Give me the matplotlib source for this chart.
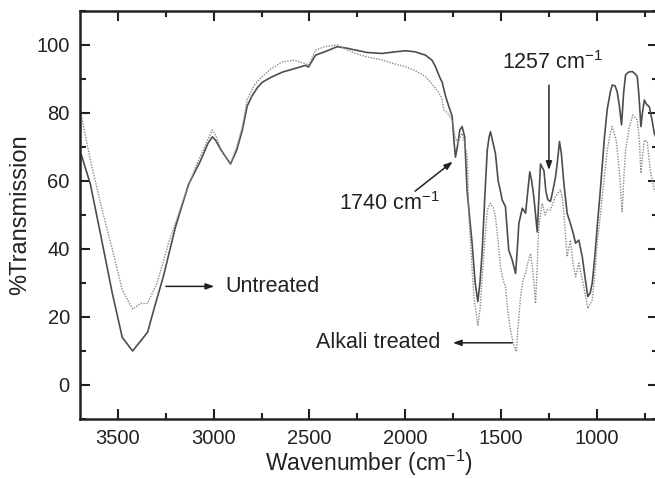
import numpy as np
import matplotlib
matplotlib.use('Agg')
import matplotlib.pyplot as plt
from matplotlib.ticker import MultipleLocator

# FTIR spectra (wavenumber cm-1, %T)
wn_untreated = [3700, 3690, 3643, 3582, 3529, 3477, 3423, 3380, 3345, 3303,
                3262, 3199, 3131, 3068, 3030, 3007, 2990, 2960, 2912, 2880,
                2850, 2825, 2800, 2771, 2747, 2700, 2642, 2580, 2520, 2505,
                2468, 2420, 2355, 2300, 2260, 2200, 2120, 2050, 1999, 1950,
                1894, 1860, 1842, 1820, 1807, 1790, 1773, 1755, 1746, 1738,
                1728, 1715, 1703, 1690, 1677, 1665, 1651, 1635, 1621, 1610,
                1598, 1585, 1572, 1562, 1555, 1545, 1529, 1515, 1503, 1494,
                1477, 1460, 1442, 1424, 1415, 1407, 1389, 1372, 1360, 1350,
                1340, 1329, 1311, 1300, 1294, 1276, 1266, 1256, 1242, 1230,
                1216, 1205, 1195, 1185, 1172, 1155, 1138, 1125, 1111, 1094,
                1076, 1060, 1047, 1035, 1024, 1010, 998, 985, 972, 960,
                946, 930, 920, 905, 894, 882, 871, 860, 850, 835,
                815, 800, 789, 780, 770, 762, 752, 740, 726, 712,
                700, 685]
t_untreated = [68, 67.6, 59, 42, 27, 14, 10, 13, 15.5, 24,
               32, 46.5, 59, 66, 71, 73, 72, 69, 65, 69,
               75, 82, 85, 87.5, 89, 90.5, 92, 93, 94, 93.5,
               97, 98, 99.5, 99, 98.5, 97.8, 97.5, 98, 98.3, 98,
               97, 95.5, 93.6, 90.5, 89, 85, 82, 79, 72, 67,
               70, 75, 76, 73, 57, 50, 41.7, 30, 24.5, 30,
               39.7, 55, 69, 73, 74.5, 72, 68, 60, 57, 54.4,
               52.5, 39.7, 36.8, 32.8, 40, 47.5, 52, 50.5, 57, 62.7,
               60, 55.4, 45, 58, 65, 63, 57, 54.5, 54, 57,
               61, 66, 71.6, 68, 59.3, 50.5, 47.5, 45, 41.7, 42.6,
               37.7, 31, 26, 27, 30, 38, 46.6, 55, 64.2, 73,
               81, 86, 88.2, 88, 86.3, 82, 76.5, 86, 91.2, 92,
               92.2, 91.5, 90.7, 85, 76, 80, 83.8, 82.5, 81.8, 78,
               74, 72]

wn_alkali = [3700, 3690, 3643, 3582, 3529, 3477, 3423, 3380, 3345, 3295,
             3234, 3164, 3095, 3040, 3007, 2990, 2960, 2912, 2880, 2850,
             2825, 2790, 2747, 2700, 2642, 2580, 2520, 2505, 2468, 2420,
             2355, 2300, 2260, 2200, 2120, 2060, 1999, 1950, 1894, 1860,
             1825, 1810, 1799, 1780, 1755, 1740, 1725, 1713, 1703, 1690,
             1676, 1668, 1655, 1642, 1621, 1610, 1598, 1585, 1572, 1555,
             1540, 1529, 1515, 1503, 1490, 1477, 1465, 1451, 1435, 1420,
             1410, 1398, 1385, 1372, 1360, 1346, 1333, 1320, 1311, 1303,
             1285, 1270, 1259, 1242, 1216, 1190, 1180, 1172, 1155, 1138,
             1125, 1111, 1094, 1080, 1068, 1047, 1024, 1010, 998, 985,
             972, 946, 930, 920, 899, 882, 868, 858, 850, 830,
             812, 789, 778, 770, 760, 752, 737, 721, 700, 685]
t_alkali = [80, 79, 66, 51.5, 40, 28, 22.3, 24, 24, 30,
            42, 53.5, 64, 71, 75, 73.5, 69, 65, 70, 76,
            84, 88, 90.7, 93, 95, 95.5, 94.5, 94, 98.5, 99.5,
            100, 98.5, 97.5, 96.5, 95.6, 94.5, 93.6, 92.5, 90.7, 88.5,
            86, 84.5, 81, 80, 78, 73, 71, 73, 74, 71,
            67, 49.5, 38, 26, 17.6, 22, 31.8, 42, 51.5, 53.4,
            52, 49.5, 42, 34.8, 31, 29, 22, 16.2, 12, 9.8,
            18, 26, 31, 32.8, 36, 38.7, 33, 24, 35, 46.6,
            53.4, 50, 51.5, 51.5, 55.4, 57.4, 55, 50.5, 37.7, 42.6,
            36, 31.8, 35.8, 32, 28.9, 22.5, 25, 33, 41.7, 48,
            55.4, 69, 74, 76, 72, 62.3, 51, 62, 69, 76,
            79.4, 78, 72, 62.3, 68, 72, 71.6, 63, 57.4, 56]

plt.rcParams['font.family'] = 'Liberation Sans'
plt.rcParams['mathtext.fontset'] = 'custom'
plt.rcParams['mathtext.rm'] = 'Liberation Sans'
plt.rcParams['mathtext.it'] = 'Liberation Sans:italic'

fig = plt.figure(figsize=(6.55, 4.79), dpi=100, facecolor='white')
ax = fig.add_axes([0.1214, 0.1253, 0.8834, 0.8518])

ax.plot(wn_untreated, t_untreated, '-', color='#4d4d4d', lw=1.2)
ax.plot(wn_alkali, t_alkali, linestyle=(0, (1, 1)), color='#8a8a8a', lw=1.0)

ax.set_xlim(3700, 680)
ax.set_ylim(-10, 110)
ax.xaxis.set_major_locator(MultipleLocator(500))
ax.xaxis.set_minor_locator(MultipleLocator(250))
ax.yaxis.set_major_locator(MultipleLocator(20))
ax.yaxis.set_minor_locator(MultipleLocator(10))

ax.tick_params(which='both', direction='in', top=True, right=True,
               width=1.5, colors='#222222', labelsize=14.5, pad=7)
ax.tick_params(which='major', length=7)
ax.tick_params(which='minor', length=4)
for s in ax.spines.values():
    s.set_linewidth(1.8)
    s.set_color('#222222')

ax.set_xlabel(r'Wavenumber (cm$^{\mathrm{-1}}$)', fontsize=16.5, color='#222222', labelpad=0)
ax.set_ylabel('%Transmission', fontsize=17, color='#222222', labelpad=4)

arr = dict(arrowstyle='-|>,head_length=0.5,head_width=0.18', color='#222222', lw=1.1)
txt = dict(fontsize=15.5, color='#222222')

ax.annotate('', xy=(2982, 29), xytext=(3264, 29), arrowprops=arr)
ax.text(2940, 29, 'Untreated', ha='left', va='center', **txt)

ax.annotate('', xy=(1766, 12.4), xytext=(1427, 12.4), arrowprops=arr)
ax.text(1819, 12.4, 'Alkali treated', ha='right', va='center', **txt)

ax.annotate('', xy=(1741, 66.2), xytext=(1960, 56.5), arrowprops=arr)
ax.text(2345, 53.5, r'1740 cm$^{\mathrm{-1}}$', ha='left', va='center', **txt)

ax.annotate('', xy=(1250, 62.4), xytext=(1250, 89), arrowprops=arr)
ax.text(1495, 94.7, r'1257 cm$^{\mathrm{-1}}$', ha='left', va='center', **txt)

fig.savefig('out.png', dpi=100, facecolor='white')
